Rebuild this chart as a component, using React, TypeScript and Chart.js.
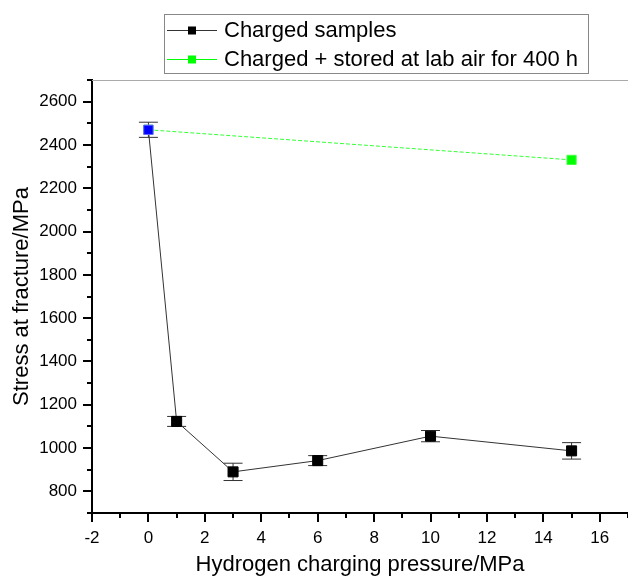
import React, { useEffect, useRef } from "react";
import { Chart, registerables } from "chart.js";
Chart.register(...registerables);

const pressures = [0, 1, 3, 6, 10, 15];
const stress = [2470, 1123, 890, 942, 1055, 987];
const stressErr = [35, 23, 40, 23, 26, 38];
const storedPressures = [0, 15];
const storedStress = [2470, 2331];
const xTickValues = [-2, 0, 2, 4, 6, 8, 10, 12, 14, 16];
const xMinorValues = [-1, 1, 3, 5, 7, 9, 11, 13, 15, 17];
const yTickValues = [800, 1000, 1200, 1400, 1600, 1800, 2000, 2200, 2400, 2600];
const yMinorValues = [700, 900, 1100, 1300, 1500, 1700, 1900, 2100, 2300, 2500, 2700];
const seriesLabels = ["Charged samples", "Charged + stored at lab air for 400 h"];
const xTitle = "Hydrogen charging pressure/MPa";
const yTitle = "Stress at fracture/MPa";

const FONT = '"Liberation Sans", Arial, Helvetica, sans-serif';

const overlay = {
  id: "overlay",
  beforeDatasetsDraw(chart: any) {
    const ctx = chart.ctx;
    const xs = chart.scales.x;
    const ys = chart.scales.y;
    ctx.save();
    ctx.strokeStyle = "#333";
    ctx.lineWidth = 1;
    pressures.forEach((p, i) => {
      const x = xs.getPixelForValue(p);
      const yt = ys.getPixelForValue(stress[i] + stressErr[i]);
      const yb = ys.getPixelForValue(stress[i] - stressErr[i]);
      ctx.beginPath();
      ctx.moveTo(x, yt);
      ctx.lineTo(x, yb);
      ctx.moveTo(x - 9.5, yt);
      ctx.lineTo(x + 9.5, yt);
      ctx.moveTo(x - 9.5, yb);
      ctx.lineTo(x + 9.5, yb);
      ctx.stroke();
    });
    ctx.restore();
  },
  afterDraw(chart: any) {
    const ctx = chart.ctx;
    const xs = chart.scales.x;
    const ys = chart.scales.y;
    const ca = chart.chartArea;
    ctx.save();
    // top frame
    ctx.strokeStyle = "#aaa";
    ctx.lineWidth = 1;
    ctx.beginPath();
    ctx.moveTo(ca.left, ca.top + 0.5);
    ctx.lineTo(ca.right, ca.top + 0.5);
    ctx.stroke();
    // minor ticks
    ctx.strokeStyle = "#000";
    ctx.lineWidth = 2;
    ctx.beginPath();
    xMinorValues.forEach((v) => {
      const x = Math.round(xs.getPixelForValue(v));
      if (x > ca.right) return;
      ctx.moveTo(x, ca.bottom);
      ctx.lineTo(x, ca.bottom + 5);
    });
    yMinorValues.forEach((v) => {
      const y = Math.round(ys.getPixelForValue(v));
      ctx.moveTo(ca.left, y);
      ctx.lineTo(ca.left - 5, y);
    });
    ctx.stroke();
    // legend
    ctx.strokeStyle = "#888";
    ctx.lineWidth = 1;
    ctx.strokeRect(164.5, 14.5, 424, 59);
    const rows = [
      { y: 30, line: "#333", fill: "#000" },
      { y: 59, line: "#00ff00", fill: "#00ff00" },
    ];
    rows.forEach((r, i) => {
      ctx.strokeStyle = r.line;
      ctx.lineWidth = 1;
      ctx.beginPath();
      ctx.moveTo(167, r.y + 0.5);
      ctx.lineTo(217, r.y + 0.5);
      ctx.stroke();
      ctx.fillStyle = r.fill;
      ctx.fillRect(188, r.y - 3.5, 8, 8);
      ctx.fillStyle = "#000";
      ctx.font = "22px " + FONT;
      ctx.textBaseline = "middle";
      ctx.textAlign = "left";
      ctx.fillText(seriesLabels[i], 224, r.y + 1);
    });
    ctx.restore();
  },
};

export default function App() {
  const ref = useRef<HTMLCanvasElement>(null);
  useEffect(() => {
    if (!ref.current) return;
    Chart.defaults.font.family = FONT;
    const chart = new Chart(ref.current, {
      type: "line",
      data: {
        datasets: [
          {
            label: seriesLabels[1],
            data: storedPressures.map((p, i) => ({ x: p, y: storedStress[i] })),
            borderColor: "#33ff33",
            borderWidth: 1,
            borderDash: [4, 2],
            pointStyle: "rect",
            pointRadius: 6.5,
            pointBackgroundColor: "#00ff00",
            pointBorderColor: "#44ff44",
            pointBorderWidth: 1,
            order: 2,
          },
          {
            label: seriesLabels[0],
            data: pressures.map((p, i) => ({ x: p, y: stress[i] })),
            borderColor: "#333",
            borderWidth: 1,
            pointStyle: "rect",
            pointRadius: pressures.map((_, i) => (i === 0 ? 6.6 : 7.1)),
            pointBackgroundColor: pressures.map((_, i) => (i === 0 ? "#0000ff" : "#000")),
            pointBorderColor: pressures.map((_, i) => (i === 0 ? "#6666ff" : "#000")),
            pointBorderWidth: 1,
            order: 1,
          },
        ],
      },
      options: {
        responsive: false,
        animation: false,
        layout: { autoPadding: false, padding: { top: 80, left: 0, right: 0, bottom: 0 } },
        plugins: { legend: { display: false }, tooltip: { enabled: false } },
        scales: {
          x: {
            type: "linear",
            min: -2,
            max: 17,
            afterBuildTicks: (s: any) => {
              s.ticks = xTickValues.map((v) => ({ value: v }));
            },
            afterFit: (s: any) => {
              s.height = 69;
              s.paddingLeft = 0;
              s.paddingRight = 0;
            },
            grid: { drawOnChartArea: false, drawTicks: true, tickLength: 9, color: "#000", lineWidth: 2 },
            border: { display: true, color: "#000", width: 2 },
            ticks: { color: "#000", font: { size: 17, family: FONT }, padding: 6, maxRotation: 0, callback: (v: any) => String(v) },
            title: { display: true, text: xTitle, color: "#000", font: { size: 22, family: FONT }, padding: { top: 0, bottom: 4 } },
          },
          y: {
            type: "linear",
            min: 700,
            max: 2700,
            afterBuildTicks: (s: any) => {
              s.ticks = yTickValues.map((v) => ({ value: v }));
            },
            afterFit: (s: any) => {
              s.width = 92;
              s.paddingTop = 0;
              s.paddingBottom = 0;
            },
            grid: { drawOnChartArea: false, drawTicks: true, tickLength: 9, color: "#000", lineWidth: 2 },
            border: { display: true, color: "#000", width: 2 },
            ticks: { color: "#000", font: { size: 17, family: FONT }, padding: 6, callback: (v: any) => String(v) },
            title: { display: true, text: yTitle, color: "#000", font: { size: 22, family: FONT }, padding: { top: 9, bottom: 0 } },
          },
        },
      },
      plugins: [overlay],
    });
    return () => chart.destroy();
  }, []);
  return (
    <div style={{ position: "absolute", left: 0, top: 0, width: 628, height: 582, background: "#fff" }}>
      <canvas ref={ref} width={628} height={582} style={{ width: 628, height: 582, display: "block" }} />
    </div>
  );
}
